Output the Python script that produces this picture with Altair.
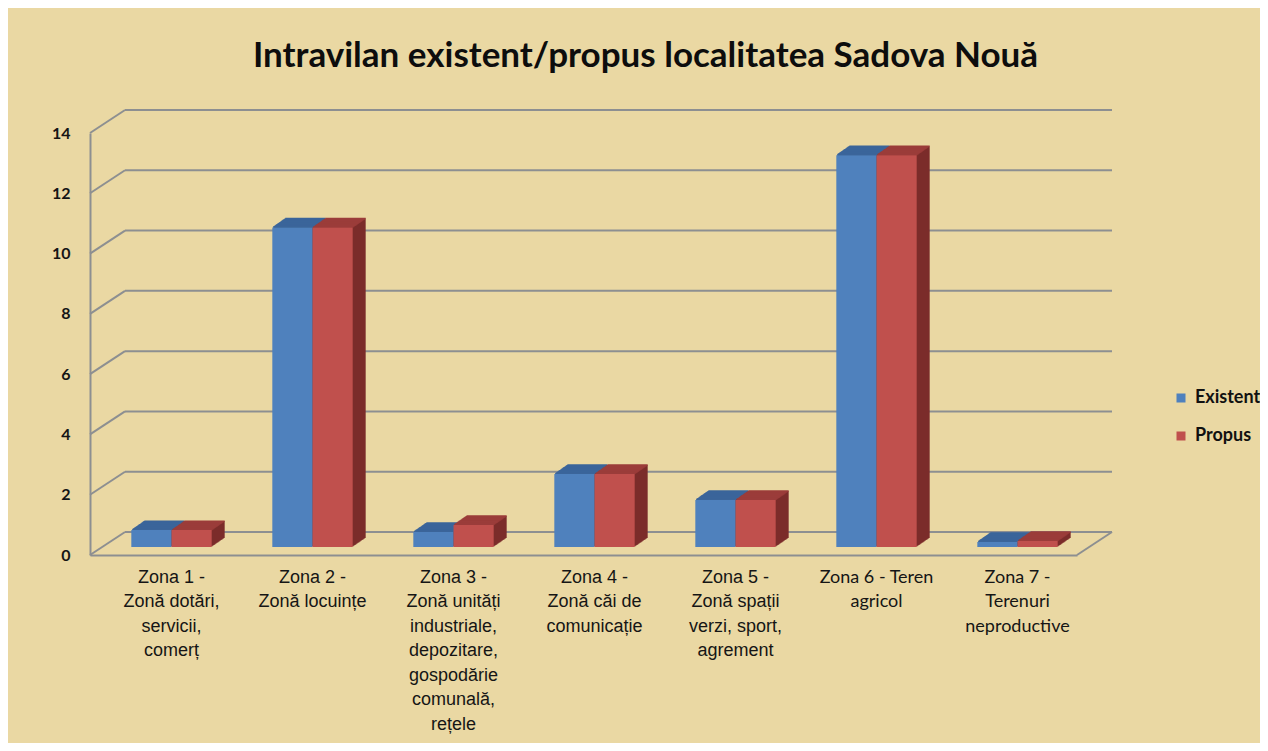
import altair as alt
import pandas as pd

# ---------------- data ----------------
categories = [
    "Zona 1 -|Zonă dotări,|servicii,|comerț",
    "Zona 2 -|Zonă locuințe",
    "Zona 3 -|Zonă unități|industriale,|depozitare,|gospodărie|comunală,|rețele",
    "Zona 4 -|Zonă căi de|comunicație",
    "Zona 5 -|Zonă spații|verzi, sport,|agrement",
    "Zona 6 - Teren|agricol",
    "Zona 7 -|Terenuri|neproductive",
]
existent = [0.56, 10.6, 0.50, 2.42, 1.56, 13.0, 0.17]
propus = [0.56, 10.6, 0.73, 2.42, 1.56, 13.0, 0.20]
series = ["Existent", "Propus"]
y_ticks = [0, 2, 4, 6, 8, 10, 12, 14]

# ---------------- layout / style ----------------
W, H = 987, 422
YMAX = 14
PAD_INNER = 0.43
STEP = W / len(categories)
BW = STEP * (1 - PAD_INNER)
DEPTH_X, DEPTH_Y = 35, 23          # depth of the 3D walls (px)
BAR_DX, BAR_DY = 11, 8             # front face of bars inside the depth
BAR_DEPTH, BAR_RISE = 13, 9        # depth extrusion of bars
GRID = "#8d8f91"
BG = "#EAD8A3"

front_col = {"Existent": "#4F81BD", "Propus": "#C0504D"}
top_col = {"Existent": "#3B659A", "Propus": "#9B3C3A"}
side_col = {"Existent": "#2F5079", "Propus": "#7C2C2B"}

rows = []
for c, e, p in zip(categories, existent, propus):
    rows.append({"zona": c, "serie": "Existent", "v": e})
    rows.append({"zona": c, "serie": "Propus", "v": p})
df = pd.DataFrame(rows)

px_per_unit = H / YMAX
grid = pd.DataFrame({"t": y_ticks, "t_back": [t + DEPTH_Y / px_per_unit for t in y_ticks]})
floor = pd.DataFrame({"t": [0], "t_back": [DEPTH_Y / px_per_unit]})

xscale = alt.Scale(domain=categories, paddingInner=PAD_INNER, paddingOuter=PAD_INNER / 2)
yscale = alt.Scale(domain=[0, YMAX], nice=False, zero=True)

x_axis = alt.Axis(
    title=None, ticks=False, domain=True, domainColor=GRID, domainWidth=2,
    labelAngle=0, labelExpr="split(datum.label, '|')",
    labelFont={
        "condition": {
            "test": "indexof(datum.value, 'Zona 6') == 0 || indexof(datum.value, 'Zona 7') == 0",
            "value": "Lato",
        },
        "value": "Liberation Sans",
    },
    labelFontSize=18, labelLineHeight=24.5, labelPadding=13, labelOffset=BAR_DX,
    labelBaseline="top", labelColor="#151515", labelOverlap=False, labelLimit=0,
)
y_axis = alt.Axis(
    title=None, values=y_ticks, grid=False, ticks=False, domain=True,
    domainColor=GRID, domainWidth=2, labelFont="Lato", labelFontWeight="bold",
    labelFontSize=16, labelColor="#151515", labelPadding=20,
)

x_enc = alt.X("zona:N", sort=categories, scale=xscale, axis=x_axis)
y_enc = alt.Y("v:Q", scale=yscale, axis=y_axis)


def off_enc(k):
    return alt.XOffset(
        "serie:N", sort=series,
        scale=alt.Scale(domain=series, range=[BAR_DX + k, BAR_DX + k + BW],
                        paddingInner=0, paddingOuter=0),
    )


layers = []

# back wall gridlines
layers.append(
    alt.Chart(grid).mark_rule(color=GRID, strokeWidth=2, yOffset=-DEPTH_Y).encode(
        x=alt.value(DEPTH_X), x2=alt.value(W + DEPTH_X),
        y=alt.Y("t:Q", scale=yscale, axis=y_axis),
    )
)
# left wall diagonals
layers.append(
    alt.Chart(grid).mark_rule(color=GRID, strokeWidth=2).encode(
        x=alt.value(0), x2=alt.value(DEPTH_X),
        y=alt.Y("t:Q", scale=yscale, axis=y_axis), y2="t_back:Q",
    )
)
# right floor diagonal
layers.append(
    alt.Chart(floor).mark_rule(color=GRID, strokeWidth=2).encode(
        x=alt.value(W), x2=alt.value(W + DEPTH_X),
        y=alt.Y("t:Q", scale=yscale, axis=y_axis), y2="t_back:Q",
    )
)

# 3D extrusion of bars (back to front), per series
for s in series:
    src = alt.Chart(df).transform_filter(alt.datum.serie == s)
    for k in range(BAR_DEPTH, 0, -1):
        rise = BAR_DY + k * BAR_RISE / BAR_DEPTH
        layers.append(
            src.mark_bar(color=side_col[s], yOffset=-rise, y2Offset=-rise).encode(
                x=x_enc, xOffset=off_enc(k), y=y_enc,
            )
        )
    for k in range(BAR_DEPTH, 0, -1):
        rise = BAR_DY + k * BAR_RISE / BAR_DEPTH
        layers.append(
            src.mark_bar(color=top_col[s], stroke=top_col[s], strokeWidth=1.4,
                         yOffset=-rise, y2Offset=-rise).encode(
                x=x_enc, xOffset=off_enc(k), y=y_enc, y2="v:Q",
            )
        )

# front faces
layers.append(
    alt.Chart(df).mark_bar(yOffset=-BAR_DY, y2Offset=-BAR_DY).encode(
        x=x_enc, xOffset=off_enc(0), y=y_enc,
        color=alt.Color(
            "serie:N", sort=series,
            scale=alt.Scale(domain=series, range=[front_col[s] for s in series]),
            legend=alt.Legend(
                title=None, orient="none", legendX=1082, legendY=256,
                symbolType="square", symbolSize=81, symbolStrokeWidth=0,
                symbolOpacity=1, labelFont="Lato", labelFontWeight="bold",
                labelFontSize=18, labelColor="#111111", rowPadding=20,
                labelOffset=5, padding=0,
            ),
        ),
    )
)

chart = (
    alt.layer(*layers)
    .resolve_scale(xOffset="independent")
    .properties(
        width=W, height=H,
        autosize=alt.AutoSizeParams(type="none"),
        padding={"left": 82, "top": 125, "right": 183, "bottom": 188},
        background=BG,
        title=alt.TitleParams(
            "Intravilan existent/propus localitatea Sadova Nouă",
            font="Lato", fontSize=35, fontWeight="bold", color="#0d0d0d",
            anchor="middle", frame="group", dx=62, offset=35,
        ),
    )
    .configure_view(stroke=None)
)

chart.save("out.html", embed_options={"renderer": "svg", "actions": False})
